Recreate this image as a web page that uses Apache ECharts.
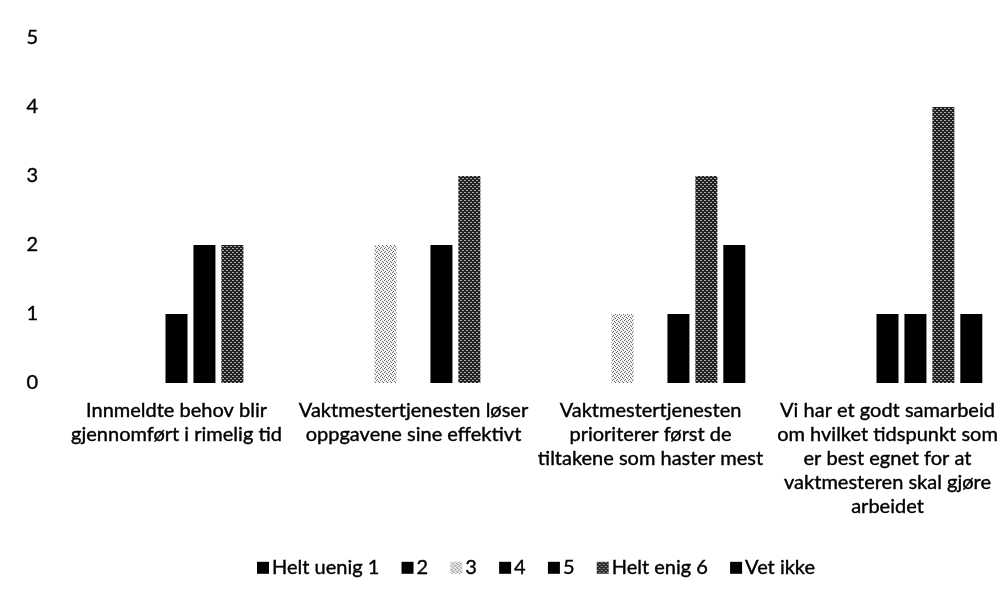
<!DOCTYPE html>
<html><head><meta charset="utf-8">
<script src="https://cdn.jsdelivr.net/npm/echarts@6/dist/echarts.min.js"></script>
<style>html,body{margin:0;padding:0;background:#fff}#c{width:1006px;height:596px}</style>
</head><body><div id="c"></div>
<script>
const categories = [
  "Innmeldte behov blir\ngjennomført i rimelig tid",
  "Vaktmestertjenesten løser\noppgavene sine effektivt",
  "Vaktmestertjenesten\nprioriterer først de\ntiltakene som haster mest",
  "Vi har et godt samarbeid\nom hvilket tidspunkt som\ner best egnet for at\nvaktmesteren skal gjøre\narbeidet"
];
const seriesNames = ["Helt uenig 1", "2", "3", "4", "5", "Helt enig 6", "Vet ikke"];
const s1 = [0, 0, 0, 0];
const s2 = [0, 0, 0, 0];
const s3 = [0, 2, 1, 0];
const s4 = [1, 0, 0, 1];
const s5 = [2, 2, 1, 1];
const s6 = [2, 3, 3, 4];
const s7 = [0, 0, 2, 1];
const yTicks = [0, 1, 2, 3, 4, 5];

function pattern(bg, fg, pts) {
  const cv = document.createElement('canvas');
  cv.width = 4; cv.height = 4;
  const ctx = cv.getContext('2d');
  ctx.fillStyle = bg; ctx.fillRect(0, 0, 4, 4);
  ctx.fillStyle = fg;
  pts.forEach(p => ctx.fillRect(p[0], p[1], 1, 1));
  return { image: cv, repeat: 'repeat' };
}
const pat3 = pattern('#f2f2f2', '#6a6a6a', [[0,0],[2,1],[1,3],[3,2]]);
const pat6 = pattern('#222222', '#a8a8a8', [[0,0],[1,0],[2,2],[3,2]]);

const values = [s1, s2, s3, s4, s5, s6, s7];
const colors = ['#000', '#000', pat3, '#000', '#000', pat6, '#000'];

const font = 'Lato, "Liberation Sans", sans-serif';
const txt = { fontFamily: font, fontSize: 20, color: '#000', textBorderColor: '#000', textBorderWidth: 0.4 };
const chart = echarts.init(document.getElementById('c'));
chart.setOption({
  animation: false,
  grid: { left: 58, right: -6, top: 38, bottom: 213 },
  legend: {
    bottom: 13, left: 252,
    icon: 'rect', itemWidth: 12, itemHeight: 12, itemGap: 22,
    textStyle: Object.assign({}, txt, { padding: [0, 0, 0, -2] }),
    data: seriesNames
  },
  xAxis: {
    type: 'category', data: categories,
    axisLine: { show: false }, axisTick: { show: false },
    axisLabel: Object.assign({ interval: 0, lineHeight: 24, margin: 16 }, txt)
  },
  yAxis: {
    type: 'value', min: 0, max: 5, interval: 1,
    splitLine: { show: false },
    axisLine: { show: false }, axisTick: { show: false },
    axisLabel: Object.assign({ margin: 20 }, txt)
  },
  series: seriesNames.map((n, i) => ({
    name: n, type: 'bar', data: values[i], barWidth: 22, barGap: '27%',
    itemStyle: { color: colors[i] }
  }))
});
</script></body></html>
